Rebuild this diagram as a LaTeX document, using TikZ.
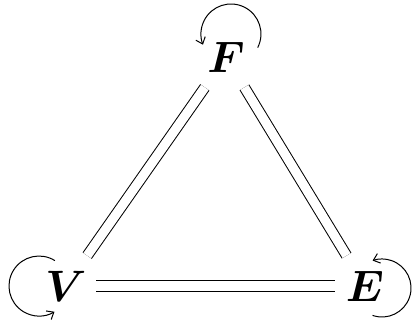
\RequirePackage{fix-cm}
\documentclass[tikz,border=0pt]{standalone}
\usepackage{amsmath}
\usetikzlibrary{arrows.meta}
\begin{document}
\begin{tikzpicture}[x=0.5pt,y=-0.5pt,
     obj/.style={font=\fontsize{22}{26}\selectfont,inner sep=0pt,
       minimum width=30pt,minimum height=30pt},
     eq/.style={double,double distance=4.6pt,line width=0.5pt},
     self/.style={line width=0.5pt,
       -{Straight Barb[length=3pt,width=5pt]}}]
    \useasboundingbox (0,0) rectangle (414,323);
    \node[obj] (F) at (226,57) {$\boldsymbol{F}$};
    \node[obj] (V) at (66,286) {$\boldsymbol{V}$};
    \node[obj] (E) at (365,286) {$\boldsymbol{E}$};
    \draw[eq] (F) -- (V);
    \draw[eq] (F) -- (E);
    \draw[eq] (V) -- (E);
    \draw[self] ([shift={(31.7,-9.4)}]F.center)
      arc[start angle=27,end angle=-201,radius=30];
    \draw[self] ([shift={(-11.1,-25.4)}]V.center)
      arc[start angle=-58,end angle=-301,radius=30];
    \draw[self] ([shift={(7.6,29.4)}]E.center)
      arc[start angle=109,end angle=-109,radius=29];
  \end{tikzpicture}
\end{document}
